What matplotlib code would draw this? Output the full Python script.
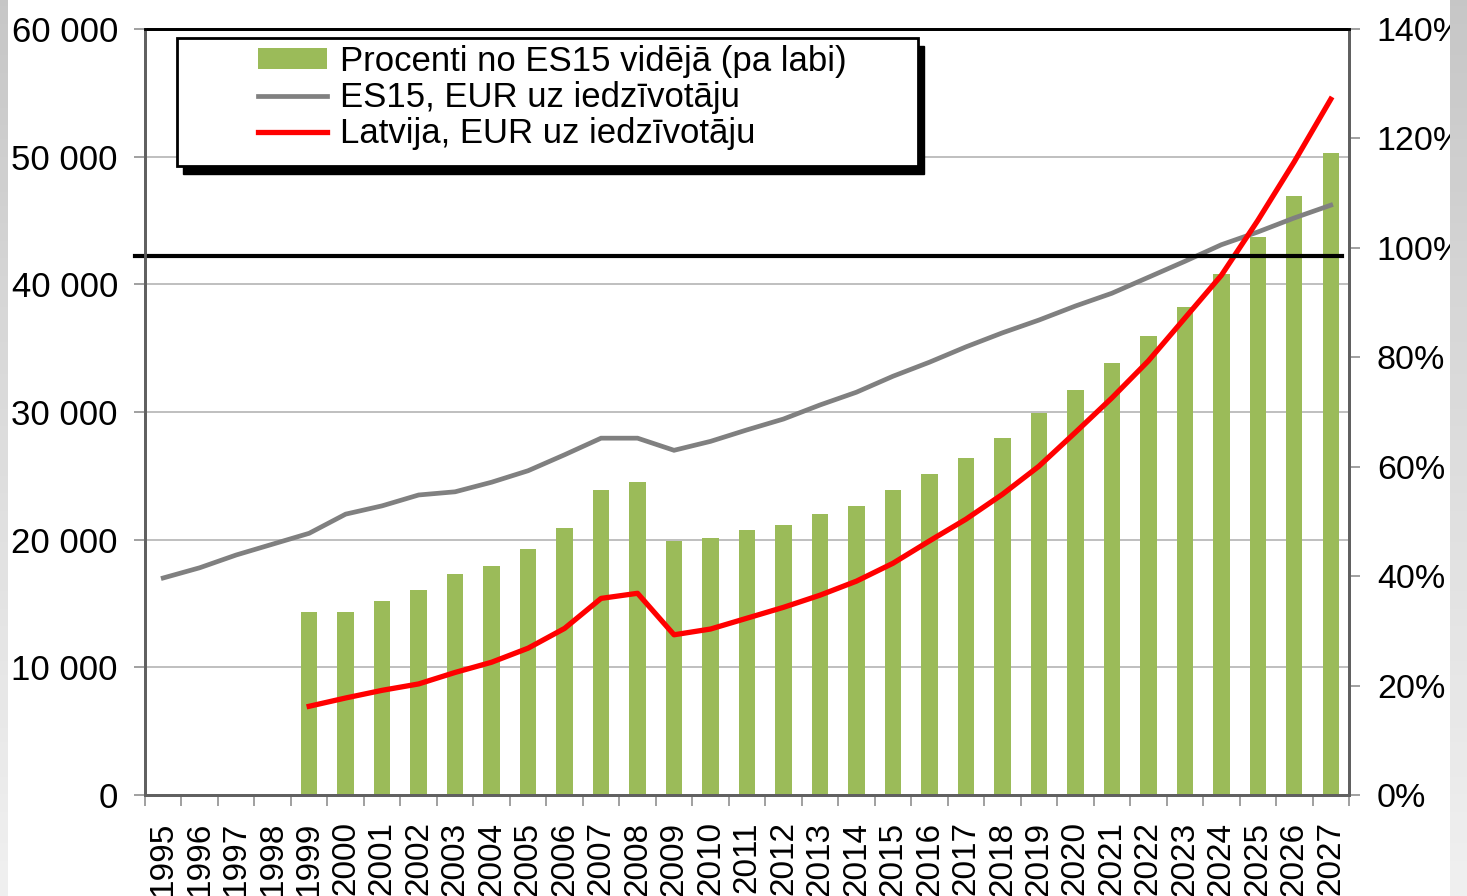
import numpy as np
import matplotlib
matplotlib.use("Agg")
import matplotlib.pyplot as plt
from matplotlib.patches import Rectangle
from matplotlib.lines import Line2D
from matplotlib.patches import Patch
from matplotlib.ticker import FuncFormatter, MultipleLocator

plt.rcParams['font.family'] = ['Liberation Sans', 'DejaVu Sans']

# %% data
years = list(range(1995, 2028))

es15_eur = [17000, 17800, 18800, 19650, 20500, 22000, 22650, 23500, 23750,
            24500, 25400, 26650, 27950, 27950, 27000, 27700, 28600, 29450,
            30550, 31550, 32800, 33900, 35100, 36200, 37200, 38300, 39300,
            40550, 41800, 43100, 44100, 45200, 46200]

lv_years = list(range(1999, 2028))
lv_eur = [6950, 7600, 8200, 8700, 9600, 10400, 11500, 13050, 15400, 15800,
          12550, 13000, 13850, 14700, 15650, 16750, 18150, 19900, 21600,
          23550, 25750, 28400, 31100, 34000, 37350, 40700, 45000, 49600,
          54500]

pct_years = lv_years
pct_es15 = [33.4, 33.4, 35.5, 37.5, 40.4, 41.9, 45.0, 48.8, 55.7, 57.2,
            46.4, 47.0, 48.4, 49.3, 51.4, 52.8, 55.7, 58.7, 61.6, 65.2,
            69.8, 74.0, 79.0, 83.9, 89.2, 95.2, 102.0, 109.5, 117.3]

ref_level = 42200  # black horizontal line (EUR scale)

labels = ['Procenti no ES15 vidējā (pa labi)',
          'ES15, EUR uz iedzīvotāju',
          'Latvija, EUR uz iedzīvotāju']

# %% plot
W, H = 1467, 896
fig = plt.figure(figsize=(W / 100, H / 100), dpi=100, facecolor='white')
ax = fig.add_axes([145 / W, 1 - 795 / H, (1349 - 145) / W, (795 - 29) / H])
ax2 = ax.twinx()

idx = {y: i for i, y in enumerate(years)}
xb = [idx[y] for y in pct_years]
ax.bar(xb, pct_es15, width=0.45, color='#9BBB59', zorder=2)
ax.set_ylim(0, 140)
ax.set_xlim(-0.5, len(years) - 0.5)

# gridlines of the EUR axis, drawn under the bars
for v in range(10000, 60001, 10000):
    ax.axhline(v / 60000 * 140, color='#b4b4b4', lw=1.2, zorder=1)

ax2.plot([idx[y] for y in years], es15_eur, color='#808080', lw=3.4,
         solid_joinstyle='miter')
ax2.plot([idx[y] for y in lv_years], lv_eur, color='#ff0000', lw=3.8)
ax2.plot([-0.77, 32.3], [ref_level, ref_level], color='black', lw=3,
         clip_on=False)
ax2.set_ylim(0, 60000)

# axes styling
ax.yaxis.tick_right()
ax2.yaxis.tick_left()
ax.yaxis.set_major_locator(MultipleLocator(20))
ax.yaxis.set_major_formatter(FuncFormatter(lambda v, p: f'{v:.0f}%'))
ax2.yaxis.set_major_locator(MultipleLocator(10000))
ax2.yaxis.set_major_formatter(
    FuncFormatter(lambda v, p: f'{v:,.0f}'.replace(',', ' ')))

ax.set_xticks(np.arange(-0.5, len(years), 1.0))
ax.set_xticklabels([])
ax.set_xticks(range(len(years)), minor=True)
ax.set_xticklabels([str(y) for y in years], minor=True, rotation=90,
                   fontsize=24, va='top')
ax.tick_params(axis='x', which='major', length=8, color='#909090', width=1.2)
ax.tick_params(axis='x', which='minor', length=0, pad=19)
ax.tick_params(axis='y', length=8, color='#909090', width=1.2, pad=12,
               labelsize=24.5)
ax2.tick_params(axis='y', length=8, color='#909090', width=1.2, pad=11.5,
                labelsize=25)

for a in (ax, ax2):
    for s in ('left', 'right', 'bottom'):
        a.spines[s].set_color('#606060')
        a.spines[s].set_linewidth(2)
    a.spines['top'].set_color('black')
    a.spines['top'].set_linewidth(2)

# legend box with shadow
bx, by, bw, bh = 177 / W, 1 - 166 / H, 741 / W, 128 / H
ax2.add_patch(Rectangle((bx + 6 / W, by - 8 / H), bw, bh, transform=fig.transFigure,
                        facecolor='black', edgecolor='black', clip_on=False,
                        zorder=8))
ax2.add_patch(Rectangle((bx, by), bw, bh, transform=fig.transFigure,
                        facecolor='white', edgecolor='black', lw=2,
                        clip_on=False, zorder=9))
handles = [Patch(facecolor='#9BBB59', edgecolor='none'),
           Line2D([], [], color='#808080', lw=3.4),
           Line2D([], [], color='#ff0000', lw=3.8)]
leg = ax2.legend(handles, labels, loc='upper left',
                 bbox_to_anchor=(258 / W, 1 - 45 / H),
                 bbox_transform=fig.transFigure, frameon=False, fontsize=25,
                 borderpad=0, borderaxespad=0, handlelength=2.0,
                 handleheight=0.55, handletextpad=0.35, labelspacing=0.09)
leg.set_zorder(10)

# grey slide frame at the sides
grad = np.linspace(0, 1, 256).reshape(-1, 1)
for x0, w in ((0, 7), (1450, 17)):
    band = fig.add_axes([x0 / W, 0, w / W, 1], zorder=20)
    band.imshow(grad, aspect='auto', cmap='Greys_r', vmin=-3.2, vmax=1.6,
                extent=(0, 1, 0, 1))
    band.set_axis_off()

fig.savefig('out.png', dpi=100)
